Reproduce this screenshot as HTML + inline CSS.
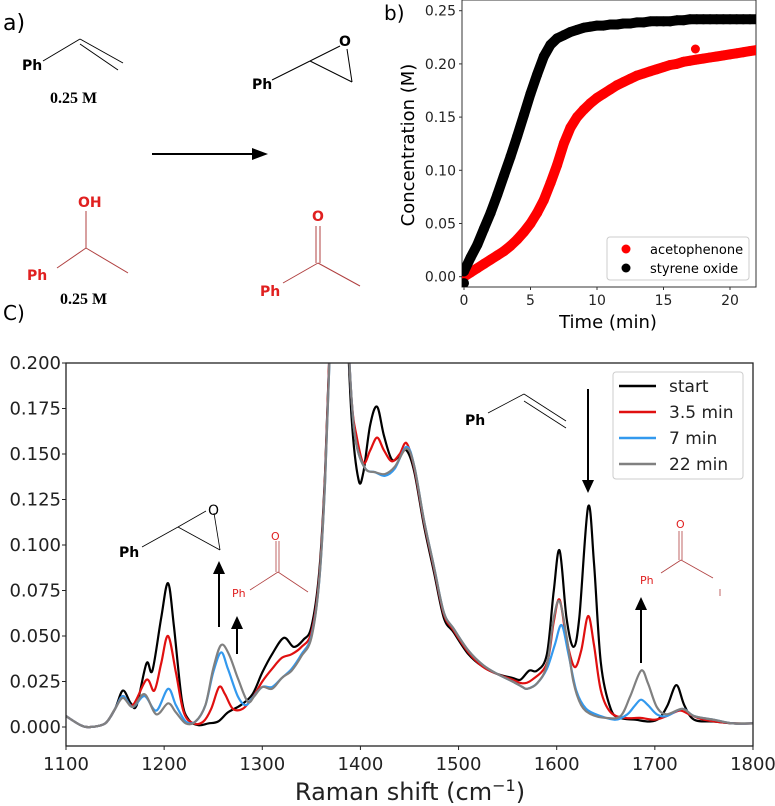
<!DOCTYPE html>
<html><head><meta charset="utf-8"><style>
html,body{margin:0;padding:0;background:#fff;}
svg{display:block;font-family:"DejaVu Sans","Liberation Sans",sans-serif;}
</style></head><body>
<svg id="fig" width="775" height="806" viewBox="0 0 775 806" xmlns="http://www.w3.org/2000/svg">
<!-- Panel a -->
<g>
<text x="3" y="30" font-size="22">a)</text>
<g stroke="#000" stroke-width="1" fill="none">
<line x1="43" y1="61" x2="80" y2="39"/><line x1="80" y1="39" x2="123" y2="63"/><line x1="80" y1="44" x2="118" y2="70"/>
<line x1="272" y1="80" x2="310" y2="61"/><line x1="310" y1="61" x2="340" y2="46"/><line x1="310" y1="61" x2="352" y2="82"/><line x1="347" y1="49" x2="352" y2="82"/>
<line x1="152" y1="154" x2="254" y2="154" stroke-width="2"/>
</g>
<polygon points="252,148 268,154 252,160" fill="#000"/>
<text x="22" y="70" font-size="14" font-weight="bold">Ph</text>
<text x="50" y="103" font-size="16" font-weight="bold" font-family="Liberation Serif,serif">0.25 M</text>
<text x="252" y="89" font-size="14" font-weight="bold">Ph</text>
<text x="339" y="46" font-size="14" font-weight="bold">O</text>
<g stroke="#b04040" stroke-width="1" fill="none">
<line x1="86" y1="211" x2="86" y2="248"/><line x1="57" y1="268" x2="86" y2="248"/><line x1="86" y1="248" x2="128" y2="273"/>
<line x1="316" y1="226" x2="316" y2="263"/><line x1="320" y1="226" x2="320" y2="263"/><line x1="283" y1="283" x2="318" y2="263"/><line x1="318" y1="263" x2="360" y2="286"/>
</g>
<text x="78" y="207" font-size="14" font-weight="bold" fill="#e02020">OH</text>
<text x="27" y="280" font-size="14" font-weight="bold" fill="#e02020">Ph</text>
<text x="60" y="304" font-size="16" font-weight="bold" font-family="Liberation Serif,serif">0.25 M</text>
<text x="312" y="221" font-size="14" font-weight="bold" fill="#e02020">O</text>
<text x="260" y="296" font-size="14" font-weight="bold" fill="#e02020">Ph</text>
</g>
<!-- Panel b -->
<g id="pb">
<text x="384" y="20" font-size="20">b)</text>
</g>
<!-- Panel c -->
<g id="pc">
<text x="3" y="320" font-size="20">C)</text>
</g>
<defs><clipPath id="clipc"><rect x="66" y="363" width="687" height="383"/></clipPath>
<clipPath id="clipb"><rect x="462" y="0" width="294" height="287"/></clipPath></defs>
</svg>
<script>
const NS="http://www.w3.org/2000/svg";
function mk(parent,tag,attrs,text){const e=document.createElementNS(NS,tag);for(const k in attrs)e.setAttribute(k,attrs[k]);if(text!==undefined)e.textContent=text;parent.appendChild(e);return e;}

// ---------- Panel b data ----------
const timeStep=0.5;
const styreneOxideConc=[0.005,0.018,0.030,0.045,0.060,0.077,0.095,0.113,0.132,0.152,0.172,0.190,0.207,0.218,0.224,0.227,0.230,0.232,0.234,0.235,0.236,0.236,0.237,0.237,0.238,0.238,0.239,0.239,0.240,0.240,0.240,0.240,0.241,0.241,0.242,0.242,0.242,0.242,0.242,0.242,0.242,0.242,0.242,0.242,0.242];
const acetophenoneConc=[0.000,0.004,0.008,0.012,0.016,0.020,0.024,0.029,0.035,0.042,0.050,0.060,0.072,0.088,0.105,0.125,0.140,0.150,0.157,0.163,0.168,0.172,0.176,0.180,0.183,0.186,0.189,0.191,0.193,0.195,0.197,0.199,0.200,0.202,0.203,0.204,0.205,0.206,0.207,0.208,0.209,0.210,0.211,0.212,0.213];
const acetOutlier=[17.4,0.214];
const bXTicks=[0,5,10,15,20];
const bYTicks=[0.00,0.05,0.10,0.15,0.20,0.25];
const bx=t=>464+t*13.3;
const by=c=>276.7-c*1064;

const pb=document.getElementById('pb');
mk(pb,'rect',{x:462,y:0,width:294,height:287,fill:'none',stroke:'#333','stroke-width':1});
bYTicks.forEach(v=>{
  mk(pb,'line',{x1:459,x2:462,y1:by(v),y2:by(v),stroke:'#333'});
  const t=mk(pb,'text',{x:456,y:by(v)+5,'font-size':14,'text-anchor':'end',fill:'#222'},v.toFixed(2));
  
  
});
bXTicks.forEach(v=>{
  mk(pb,'line',{x1:bx(v),x2:bx(v),y1:287,y2:290,stroke:'#333'});
  const t=mk(pb,'text',{x:bx(v),y:305,'font-size':14,'text-anchor':'middle',fill:'#222'},String(v));
  
  
});
const byt=mk(pb,'text',{x:0,y:0,'font-size':18,'text-anchor':'middle',transform:'translate(414,145) rotate(-90)'},'Concentration (M)');


const bxt=mk(pb,'text',{x:608,y:328,'font-size':18,'text-anchor':'middle'},'Time (min)');


function drawSeries(arr,color,name){
  const g=mk(pb,'g',{'clip-path':'url(#clipb)'});
  
  
  const pts=arr.map((c,i)=>bx(i*timeStep).toFixed(1)+','+by(c).toFixed(1)).join(' ');
  mk(g,'polyline',{points:pts,fill:'none',stroke:color,'stroke-width':10,'stroke-linejoin':'round','stroke-linecap':'round'});
  arr.forEach((c,i)=>mk(g,'circle',{cx:bx(i*timeStep),cy:by(c),r:5,fill:color}));
  return g;
}
drawSeries(acetophenoneConc,'#ff0000','acetophenone-series');
const so=drawSeries(styreneOxideConc,'#000000','styrene-oxide-series');
mk(so,'circle',{cx:bx(0),cy:by(-0.006),r:5,fill:'#000'});
const outl=mk(pb,'circle',{cx:bx(acetOutlier[0]),cy:by(acetOutlier[1]),r:4.5,fill:'#f00'});


const bl=mk(pb,'g',{});


mk(bl,'rect',{x:607,y:237,width:142,height:43,rx:3,fill:'#fff',stroke:'#ccc'});
mk(bl,'circle',{cx:626,cy:249,r:4.5,fill:'#f00'});
mk(bl,'circle',{cx:626,cy:268,r:4.5,fill:'#000'});
mk(bl,'text',{x:650,y:254,'font-size':13},'acetophenone');
mk(bl,'text',{x:650,y:273,'font-size':13},'styrene oxide');

// ---------- Panel c data ----------
const startX=[1100,1115,1125,1140,1150,1158,1166,1172,1182,1188,1197,1204,1210,1218,1225,1235,1245,1255,1265,1278,1290,1300,1310,1322,1332,1342,1350,1358,1364,1370,1377,1385,1391,1398,1403,1410,1417,1424,1432,1440,1447,1455,1465,1475,1485,1495,1510,1525,1540,1555,1563,1572,1580,1590,1597,1603,1610,1617,1623,1632,1638,1645,1655,1665,1680,1695,1705,1713,1722,1730,1740,1760,1780,1800];
const startY=[0.006,0.001,0.000,0.002,0.010,0.020,0.013,0.012,0.035,0.031,0.060,0.079,0.055,0.015,0.004,0.001,0.002,0.003,0.008,0.012,0.018,0.030,0.040,0.049,0.044,0.048,0.055,0.085,0.140,0.230,0.320,0.240,0.170,0.136,0.140,0.166,0.176,0.160,0.147,0.149,0.152,0.140,0.110,0.085,0.060,0.052,0.040,0.033,0.029,0.027,0.026,0.031,0.031,0.040,0.075,0.097,0.060,0.044,0.060,0.121,0.090,0.035,0.010,0.005,0.004,0.003,0.005,0.012,0.023,0.012,0.004,0.003,0.002,0.002];
const min35X=[1100,1115,1125,1140,1150,1158,1168,1182,1190,1197,1204,1212,1220,1230,1240,1248,1256,1262,1270,1280,1290,1300,1310,1320,1330,1340,1350,1358,1364,1370,1377,1385,1391,1396,1403,1410,1417,1424,1432,1440,1447,1455,1465,1475,1485,1495,1510,1525,1540,1555,1565,1575,1590,1597,1603,1610,1618,1625,1632,1638,1645,1655,1670,1685,1700,1712,1725,1735,1750,1780,1800];
const min35Y=[0.006,0.001,0.000,0.002,0.010,0.017,0.012,0.026,0.020,0.035,0.050,0.030,0.008,0.002,0.003,0.010,0.022,0.018,0.010,0.010,0.016,0.025,0.032,0.038,0.040,0.044,0.052,0.082,0.138,0.230,0.320,0.240,0.180,0.160,0.145,0.152,0.159,0.152,0.146,0.150,0.156,0.142,0.112,0.087,0.062,0.053,0.041,0.033,0.029,0.026,0.024,0.026,0.035,0.058,0.070,0.048,0.033,0.042,0.061,0.045,0.020,0.008,0.005,0.005,0.004,0.006,0.009,0.007,0.004,0.002,0.002];
const min7X=[1100,1115,1125,1140,1150,1158,1168,1180,1192,1204,1212,1222,1232,1242,1250,1258,1265,1275,1283,1290,1300,1310,1320,1330,1340,1350,1358,1364,1370,1377,1385,1391,1396,1405,1415,1425,1435,1447,1455,1465,1475,1485,1495,1510,1525,1540,1555,1565,1570,1580,1590,1598,1605,1612,1620,1630,1645,1660,1672,1680,1686,1693,1702,1712,1728,1740,1760,1780,1800];
const min7Y=[0.006,0.001,0.000,0.002,0.010,0.017,0.011,0.017,0.009,0.021,0.012,0.003,0.003,0.012,0.030,0.041,0.032,0.017,0.012,0.016,0.022,0.022,0.027,0.032,0.040,0.050,0.080,0.135,0.225,0.320,0.240,0.180,0.155,0.142,0.140,0.138,0.142,0.154,0.143,0.113,0.088,0.063,0.054,0.042,0.034,0.029,0.025,0.022,0.021,0.024,0.032,0.045,0.056,0.040,0.020,0.010,0.006,0.004,0.007,0.012,0.015,0.012,0.007,0.006,0.010,0.006,0.004,0.002,0.002];
const min22X=[1100,1115,1125,1140,1150,1158,1168,1180,1192,1204,1212,1222,1232,1242,1250,1258,1266,1275,1285,1292,1300,1310,1320,1330,1340,1350,1358,1364,1370,1377,1385,1391,1396,1405,1415,1425,1435,1447,1455,1465,1475,1485,1495,1510,1525,1540,1555,1565,1570,1580,1590,1597,1603,1610,1617,1625,1635,1650,1665,1675,1686,1693,1702,1712,1728,1740,1760,1780,1800];
const min22Y=[0.006,0.001,0.000,0.002,0.010,0.016,0.011,0.018,0.007,0.013,0.008,0.002,0.003,0.012,0.032,0.045,0.040,0.027,0.014,0.017,0.022,0.021,0.027,0.031,0.039,0.049,0.080,0.135,0.225,0.320,0.240,0.180,0.155,0.142,0.140,0.139,0.143,0.153,0.143,0.113,0.088,0.063,0.054,0.042,0.034,0.029,0.025,0.022,0.021,0.024,0.034,0.060,0.069,0.050,0.025,0.012,0.007,0.005,0.006,0.017,0.031,0.024,0.011,0.007,0.010,0.006,0.004,0.002,0.002];
const cXTicks=[1100,1200,1300,1400,1500,1600,1700,1800];
const cYTicks=[0.000,0.025,0.050,0.075,0.100,0.125,0.150,0.175,0.200];
const seriesNames=['start','3.5 min','7 min','22 min'];
const seriesColors=['#000000','#e01010','#3399ee','#808080'];
const cx=w=>66+(w-1100)*0.9814;
const cy=v=>727-v*1820;

const pc=document.getElementById('pc');
function smoothPath(xs,ys){
  const p=xs.map((x,i)=>[cx(x),cy(ys[i])]);
  let d='M'+p[0][0].toFixed(1)+','+p[0][1].toFixed(1);
  for(let i=0;i<p.length-1;i++){
    const p0=p[i>0?i-1:i],p1=p[i],p2=p[i+1],p3=p[i+2<p.length?i+2:i+1];
    const c1=[p1[0]+(p2[0]-p0[0])/6,p1[1]+(p2[1]-p0[1])/6];
    const c2=[p2[0]-(p3[0]-p1[0])/6,p2[1]-(p3[1]-p1[1])/6];
    d+=' C'+c1[0].toFixed(1)+','+c1[1].toFixed(1)+' '+c2[0].toFixed(1)+','+c2[1].toFixed(1)+' '+p2[0].toFixed(1)+','+p2[1].toFixed(1);
  }
  return d;
}
const allX=[startX,min35X,min7X,min22X], allY=[startY,min35Y,min7Y,min22Y];
const sg=mk(pc,'g',{'clip-path':'url(#clipc)'});
for(let s=0;s<4;s++){
  const path=mk(sg,'path',{d:smoothPath(allX[s],allY[s]),fill:'none',stroke:seriesColors[s],'stroke-width':2.2});
  
  
}
mk(pc,'rect',{x:66,y:363,width:687,height:383,fill:'none',stroke:'#222','stroke-width':1.3});
cYTicks.forEach(v=>{
  mk(pc,'line',{x1:62,x2:66,y1:cy(v),y2:cy(v),stroke:'#222'});
  const t=mk(pc,'text',{x:61,y:cy(v)+6,'font-size':18,'text-anchor':'end',fill:'#222'},v.toFixed(3));
  
  
});
cXTicks.forEach(v=>{
  mk(pc,'line',{x1:cx(v),x2:cx(v),y1:746,y2:750,stroke:'#222'});
  const t=mk(pc,'text',{x:cx(v),y:770,'font-size':18,'text-anchor':'middle',fill:'#222'},String(v));
  
  
});
const cxt=mk(pc,'text',{x:410,y:800,'font-size':24,'text-anchor':'middle',fill:'#222'});


cxt.innerHTML='Raman shift (cm<tspan dy="-9" font-size="16">\u22121</tspan><tspan dy="9">)</tspan>';
const lg=mk(pc,'g',{});


mk(lg,'rect',{x:613,y:372,width:130,height:107,rx:3,fill:'#fff',stroke:'#ccc'});
seriesNames.forEach((n,i)=>{
  const yy=386+i*26;
  mk(lg,'line',{x1:619,x2:656,y1:yy,y2:yy,stroke:seriesColors[i],'stroke-width':2.5});
  const t=mk(lg,'text',{x:669,y:yy+6,'font-size':17,fill:'#222'},n);
  
  
});
// annotations
const an=mk(pc,'g',{});


an.innerHTML=`
<g stroke="#000" stroke-width="0.8" fill="none">
<line x1="142" y1="547" x2="178" y2="527"/><line x1="178" y1="527" x2="206" y2="511"/><line x1="178" y1="527" x2="220" y2="550"/><line x1="214" y1="513" x2="220" y2="550"/>
<line x1="488" y1="413" x2="524" y2="394"/><line x1="524" y1="394" x2="566" y2="421"/><line x1="524" y1="401" x2="566" y2="428"/>
</g>
<g stroke="#b04040" stroke-width="0.8" fill="none">
<line x1="276" y1="541" x2="276" y2="572"/><line x1="279" y1="541" x2="279" y2="572"/><line x1="250" y1="590" x2="278" y2="572"/><line x1="278" y1="572" x2="308" y2="592"/>
<line x1="679" y1="531" x2="679" y2="560"/><line x1="682" y1="531" x2="682" y2="560"/><line x1="661" y1="573" x2="681" y2="560"/><line x1="681" y1="560" x2="713" y2="578"/>
<line x1="720" y1="589" x2="720" y2="596"/>
</g>
<text x="119" y="557" font-size="14" font-weight="bold">Ph</text>
<text x="208" y="515" font-size="14">O</text>
<text x="465" y="425" font-size="14" font-weight="bold">Ph</text>
<text x="232" y="597" font-size="11" fill="#e02020">Ph</text>
<text x="271" y="540" font-size="11" fill="#e02020">O</text>
<text x="640" y="584" font-size="11" fill="#e02020">Ph</text>
<text x="676" y="528" font-size="11" fill="#e02020">O</text>
<g stroke="#000" stroke-width="2">
<line x1="219" y1="627" x2="219" y2="572"/><line x1="237" y1="654" x2="237" y2="627"/>
<line x1="588" y1="389" x2="588" y2="482"/><line x1="641" y1="663" x2="641" y2="608"/>
</g>
<polygon points="213,574 219,561 225,574" fill="#000"/>
<polygon points="231,629 237,616 243,629" fill="#000"/>
<polygon points="582,480 588,493 594,480" fill="#000"/>
<polygon points="635,610 641,597 647,610" fill="#000"/>`;
</script>
</body></html>
